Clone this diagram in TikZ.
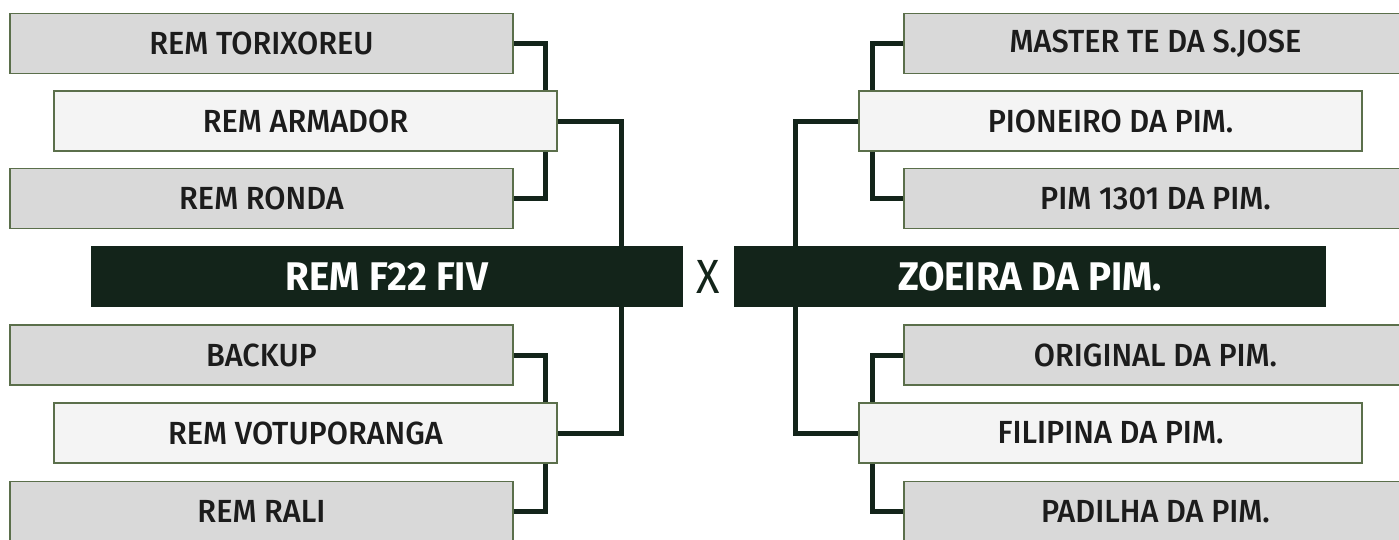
\documentclass[tikz,border=0pt]{standalone}
\usepackage{fontspec}
\setmainfont[FakeStretch=0.96, UprightFont=* Medium, BoldFont=* Bold]{Fira Sans}
\newfontfamily\versusfont[FakeStretch=0.9]{Fira Sans}
\usetikzlibrary{backgrounds}
\definecolor{darkgreen}{HTML}{13241A}
\definecolor{boxline}{HTML}{5B6F4B}
\definecolor{boxgray}{HTML}{D9D9D9}
\definecolor{boxlight}{HTML}{F4F4F4}
\definecolor{labeltext}{HTML}{1C1C1C}

\begin{document}
\begin{tikzpicture}[x=1pt, y=-1pt,
		team/.style={draw=boxline, line width=1.2pt, fill=boxgray, minimum width=503pt, minimum height=60pt, inner sep=0pt, text=labeltext, font=\fontsize{32}{32}\selectfont},
		seed/.style={team, fill=boxlight},
		final/.style={fill=darkgreen, minimum width=592pt, minimum height=61pt, inner sep=0pt, text=white, font=\fontsize{40}{40}\selectfont\bfseries},
		link/.style={darkgreen, line width=5pt}]
		\useasboundingbox (0, 0) rectangle (1399, 539);
		% left half of the bracket
		\node[team] (torixoreu) at (261.5, 43.5) {REM TORIXOREU};
		\node[seed] (armador) at (305.5, 121) {REM ARMADOR};
		\node[team] (ronda) at (261.5, 198.5) {REM RONDA};
		\node[final] (f22) at (387, 276.5) {REM F22 FIV};
		\node[team] (backup) at (261.5, 355) {BACKUP};
		\node[seed] (votuporanga) at (305.5, 433) {REM VOTUPORANGA};
		\node[team] (rali) at (261.5, 511.5) {REM RALI};
		% right half of the bracket
		\node[team] (master) at (1155.5, 43.5) {MASTER TE DA S.JOSE};
		\node[seed] (pioneiro) at (1110.5, 121) {PIONEIRO DA PIM.};
		\node[team] (pim1301) at (1155.5, 198.5) {PIM 1301 DA PIM.};
		\node[final] (zoeira) at (1030, 276.5) {ZOEIRA DA PIM.};
		\node[team] (original) at (1155.5, 355) {ORIGINAL DA PIM.};
		\node[seed] (filipina) at (1110.5, 433) {FILIPINA DA PIM.};
		\node[team] (padilha) at (1155.5, 511.5) {PADILHA DA PIM.};
		\node[text=darkgreen, font=\fontsize{48}{48}\versusfont] (versus) at (708, 277) {X};
		\begin{scope}[on background layer]
			\draw[link] (torixoreu.east) -- ++(32, 0) |- (ronda.east);
			\draw[link] (backup.east) -- ++(32, 0) |- (rali.east);
			\draw[link] (armador.east) -- ++(64, 0) |- (votuporanga.east);
			\draw[link] (master.west) -- ++(-31, 0) |- (pim1301.west);
			\draw[link] (original.west) -- ++(-31, 0) |- (padilha.west);
			\draw[link] (pioneiro.west) -- ++(-63, 0) |- (filipina.west);
		\end{scope}
	\end{tikzpicture}
\end{document}
